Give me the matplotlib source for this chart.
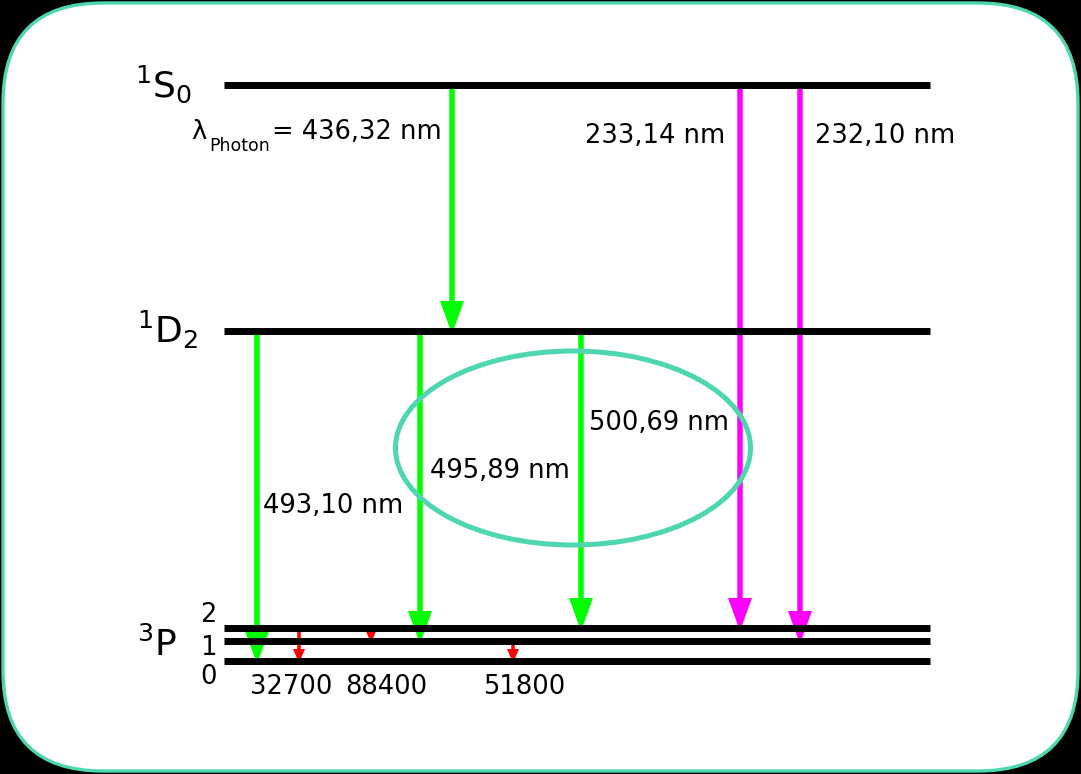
import matplotlib
matplotlib.use("Agg")
import matplotlib.pyplot as plt
from matplotlib.patches import FancyBboxPatch, Ellipse

# energy levels (y in picture rows, top = 0)
level_y = [85, 331, 628, 641, 661]          # 1S0, 1D2, 3P2, 3P1, 3P0
level_x0, level_x1 = 224, 930

# transitions: x position, from level, to level, colour
trans_x = [452, 257, 420, 581, 740, 800, 299, 371, 513]
trans_from = [0, 1, 1, 1, 0, 0, 2, 2, 3]
trans_to = [1, 4, 3, 2, 2, 3, 4, 3, 4]
trans_kind = ['g', 'g', 'g', 'g', 'm', 'm', 'r', 'r', 'r']

wave_labels = ["= 436,32 nm", "493,10 nm", "495,89 nm",
               "500,69 nm", "233,14 nm", "232,10 nm", "32700", "88400", "51800"]
label_x = [272, 263, 430, 589, 585, 815, 250, 345, 483]
label_y = [139, 513, 478, 430, 143, 143, 694, 694, 694]

colors = {'g': '#00ff00', 'm': '#ff00ff', 'r': '#ff0000'}
teal = '#4dd6b0'

fig = plt.figure(figsize=(10.81, 7.74), dpi=100, facecolor='black')
ax = fig.add_axes([0, 0, 1, 1])
ax.set_xlim(0, 1081)
ax.set_ylim(774, 0)
ax.axis('off')
ax.set_facecolor('black')

box = FancyBboxPatch((3, 3), 1075, 768, boxstyle="round,pad=0,rounding_size=100",
                     facecolor='white', edgecolor=teal, linewidth=2.4)
ax.add_patch(box)

for y in level_y:
    ax.plot([level_x0, level_x1], [y, y], color='black', lw=5.0, solid_capstyle='butt')

for x, a, b, k in zip(trans_x, trans_from, trans_to, trans_kind):
    y0 = level_y[a] + 3
    y1 = level_y[b] + 3
    if k == 'r':
        ax.arrow(x, level_y[a] - 2, 0, y1 - level_y[a] + 1, width=3.5, head_width=12,
                 head_length=14, length_includes_head=True, color=colors[k], lw=0)
    else:
        ax.arrow(x, y0, 0, y1 - y0, width=5.5, head_width=24, head_length=33,
                 length_includes_head=True, color=colors[k], lw=0)

for s, x, y in zip(wave_labels, label_x, label_y):
    ax.text(x, y, s, fontsize=18.5, ha='left', va='baseline', color='black')

# lambda with subscript
ax.text(191, 139, "λ", fontsize=18.5, ha='left', va='baseline')
ax.text(209, 151, "Photon", fontsize=12.5, ha='left', va='baseline')

# level names
ax.text(135, 97, "$^{1}$S$_{0}$", fontsize=26, ha='left', va='baseline')
ax.text(137, 343, "$^{1}$D$_{2}$", fontsize=26, ha='left', va='baseline')
ax.text(137, 656, "$^{3}$P", fontsize=26, ha='left', va='baseline')
for s, y in zip(['2', '1', '0'], [622, 655, 684]):
    ax.text(200, y, s, fontsize=18.5, ha='left', va='baseline')

ax.add_patch(Ellipse((573, 448), 355, 194, fill=False, edgecolor=teal, lw=3.6))

fig.savefig('out.png', dpi=100, facecolor='black')
